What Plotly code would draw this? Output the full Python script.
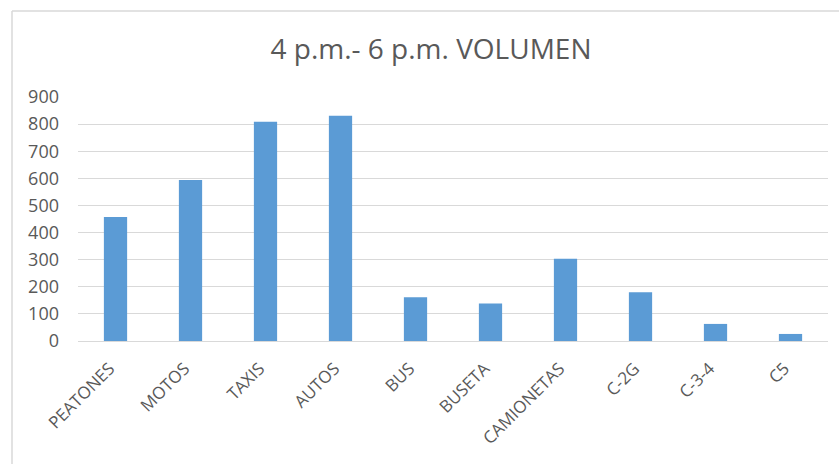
import plotly.graph_objects as go

# Vehicle / pedestrian counts, 4 p.m. - 6 p.m.
categorias = ["PEATONES", "MOTOS", "TAXIS", "AUTOS", "BUS", "BUSETA",
              "CAMIONETAS", "C-2G", "C-3-4", "C5"]
volumen = [457, 594, 809, 831, 161, 138, 303, 180, 63, 26]
y_ticks = [0, 100, 200, 300, 400, 500, 600, 700, 800, 900]

W, H = 839, 464
ML, MR, MT, MB = 78, 11, 97, 123
pw = W - ML - MR
ph = H - MT - MB

def px_x(p):
    return (p - ML) / pw

def px_y(p):
    return (H - MB - p) / ph

font_fam = "Open Sans, Liberation Sans, sans-serif"
grey_txt = "#595959"
grid = "#d9d9d9"

fig = go.Figure(go.Bar(
    x=categorias,
    y=volumen,
    marker=dict(color="#5b9bd5", line=dict(width=0)),
    width=0.31,
))

fig.update_layout(
    width=W, height=H,
    margin=dict(l=ML, r=MR, t=MT, b=MB),
    paper_bgcolor="white",
    plot_bgcolor="white",
    showlegend=False,
    font=dict(family=font_fam, color=grey_txt),
    title=dict(
        text="4 p.m.- 6 p.m. VOLUMEN",
        x=px_x(431), xref="paper", xanchor="center",
        y=1 - 49 / H, yref="container", yanchor="middle",
        font=dict(size=28, color=grey_txt, family=font_fam),
    ),
    xaxis=dict(
        tickangle=-45,
        tickfont=dict(size=17, color=grey_txt),
        showgrid=False,
        showline=True, linecolor=grid, linewidth=1,
        ticks="", ticklabelstandoff=10, ticklabelshift=-6,
    ),
    yaxis=dict(
        range=[0, 900],
        tickvals=y_ticks,
        tickfont=dict(size=18, color=grey_txt),
        showgrid=True, gridcolor=grid, gridwidth=1,
        zeroline=False, showline=False,
        ticks="", ticklabelstandoff=18,
    ),
    shapes=[
        # chart-area frame (left and top edges)
        dict(type="line", xref="paper", yref="paper",
             x0=px_x(12), x1=px_x(12), y0=px_y(11), y1=px_y(H + 5),
             line=dict(color=grid, width=1.5)),
        dict(type="line", xref="paper", yref="paper",
             x0=px_x(12), x1=px_x(W + 5), y0=px_y(11), y1=px_y(11),
             line=dict(color=grid, width=1.5)),
    ],
)

fig.write_html("out.html")
